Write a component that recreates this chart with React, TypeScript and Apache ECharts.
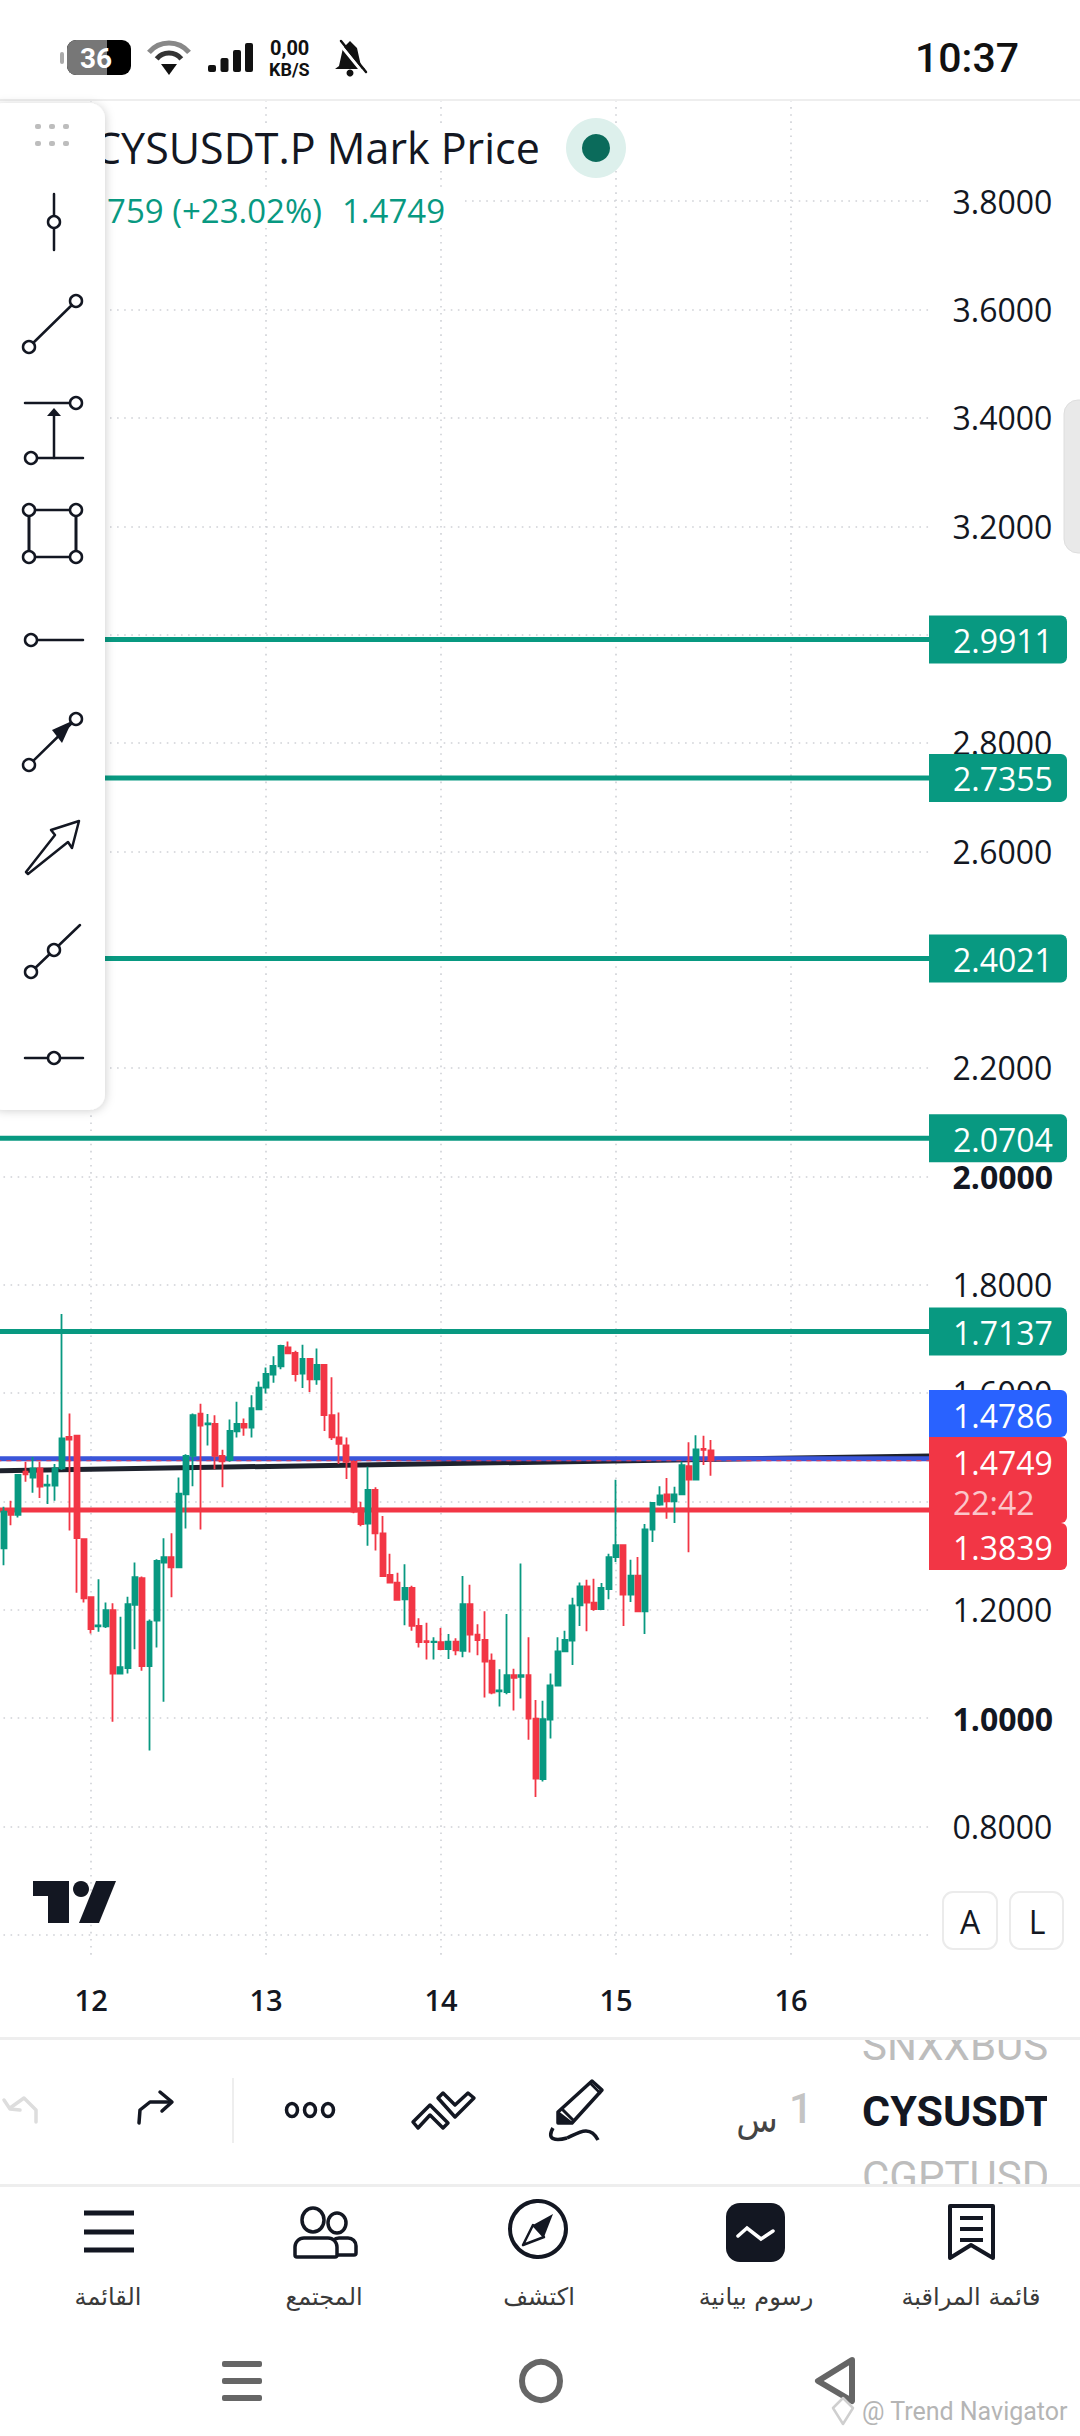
import React, { useEffect, useRef } from "react";
import * as echarts from "echarts";

const GREEN = "#089981";
const RED = "#F23645";
const BLUE = "#2962FF";
const INK = "#131722";

// [open, close, low, high] per hourly candle
const candles: number[][] = [
  [1.313,1.381,1.282,1.390],[1.385,1.375,1.356,1.401],[1.375,1.449,1.370,1.449],[1.455,1.450,1.436,1.473],
  [1.444,1.461,1.416,1.482],[1.461,1.427,1.406,1.473],[1.429,1.431,1.395,1.449],[1.429,1.461,1.401,1.469],
  [1.461,1.516,1.458,1.746],[1.519,1.514,1.346,1.562],[1.521,1.332,1.231,1.521],[1.330,1.221,1.213,1.330],
  [1.223,1.164,1.156,1.223],[1.169,1.171,1.159,1.256],[1.169,1.199,1.166,1.213],[1.199,1.082,0.993,1.212],
  [1.082,1.094,1.082,1.187],[1.092,1.210,1.082,1.224],[1.209,1.260,1.127,1.287],[1.258,1.096,1.087,1.261],
  [1.096,1.178,0.940,1.182],[1.180,1.290,1.130,1.293],[1.287,1.297,1.030,1.332],[1.297,1.278,1.223,1.341],
  [1.278,1.414,1.278,1.444],[1.413,1.484,1.350,1.487],[1.484,1.559,1.428,1.562],[1.562,1.540,1.348,1.580],
  [1.542,1.544,1.503,1.561],[1.543,1.484,1.459,1.559],[1.484,1.474,1.426,1.495],[1.476,1.530,1.473,1.551],
  [1.529,1.543,1.518,1.584],[1.543,1.536,1.521,1.553],[1.536,1.572,1.518,1.596],[1.570,1.610,1.570,1.621],
  [1.610,1.635,1.599,1.647],[1.634,1.650,1.619,1.668],[1.649,1.687,1.644,1.689],[1.684,1.673,1.672,1.695],
  [1.674,1.635,1.621,1.678],[1.636,1.663,1.609,1.689],[1.663,1.625,1.602,1.664],[1.625,1.652,1.615,1.682],
  [1.652,1.559,1.530,1.652],[1.559,1.518,1.513,1.629],[1.518,1.506,1.469,1.564],[1.503,1.473,1.441,1.518],
  [1.473,1.381,1.378,1.476],[1.387,1.358,1.354,1.399],[1.359,1.421,1.318,1.464],[1.421,1.341,1.309,1.426],
  [1.341,1.262,1.262,1.373],[1.264,1.250,1.250,1.303],[1.250,1.218,1.217,1.268],[1.219,1.240,1.171,1.284],
  [1.240,1.170,1.161,1.244],[1.170,1.140,1.130,1.184],[1.142,1.140,1.108,1.176],[1.140,1.141,1.108,1.149],
  [1.140,1.127,1.125,1.166],[1.127,1.141,1.109,1.155],[1.141,1.125,1.116,1.147],[1.124,1.210,1.112,1.262],
  [1.210,1.154,1.121,1.246],[1.154,1.144,1.116,1.173],[1.144,1.104,1.038,1.197],[1.106,1.047,1.044,1.119],
  [1.049,1.051,1.021,1.090],[1.048,1.079,1.044,1.192],[1.079,1.074,1.014,1.091],[1.076,1.079,1.036,1.285],
  [1.079,0.999,0.960,1.149],[0.999,0.888,0.854,1.033],[0.887,0.998,0.883,1.032],[0.997,1.060,0.962,1.082],
  [1.060,1.123,1.059,1.149],[1.123,1.144,1.123,1.161],[1.143,1.208,1.098,1.222],[1.208,1.243,1.170,1.250],
  [1.243,1.213,1.160,1.255],[1.213,1.201,1.198,1.257],[1.201,1.240,1.201,1.249],[1.238,1.297,1.219,1.303],
  [1.297,1.319,1.288,1.440],[1.319,1.228,1.170,1.319],[1.228,1.263,1.214,1.292],[1.263,1.197,1.197,1.297],
  [1.197,1.348,1.155,1.358],[1.348,1.397,1.325,1.398],[1.394,1.411,1.392,1.428],[1.413,1.400,1.368,1.443],
  [1.400,1.413,1.360,1.427],[1.413,1.467,1.413,1.473],[1.465,1.440,1.306,1.509],[1.440,1.496,1.440,1.522],
  [1.497,1.495,1.467,1.521],[1.494,1.475,1.447,1.513],
];

const tickLabels = ["12", "13", "14", "15", "16"];
const greenLevels = [2.9911, 2.7355, 2.4021, 2.0704, 1.7137];
const blueLevel = 1.4786;
const redLevel = 1.3839;
const lastPrice = 1.4749;
const countdown = "22:42";
const trendLine = [1.4565, 1.4837];
const boldTicks = [1, 2];
const hiddenTicks = [0.4, 0.6, 4];

const SLOTS = 129;
const categories = Array.from({ length: SLOTS }, (_, k) => {
  const h = k - 13;
  const day = 12 + Math.floor(h / 24);
  const hour = ((h % 24) + 24) % 24;
  return hour === 0 ? String(day) : `${day} ${hour}:00`;
});
const isDay = (k: number) => ((k - 13) % 24 + 24) % 24 === 0;

const GRID_LEFT = -3.64;
const GRID_W = 933.12;
const GRID_TOP = 92.9;
const GRID_H = 1950.12;
const Y_MIN = 0.4;
const Y_MAX = 4;
const yOf = (v: number) => GRID_TOP + ((Y_MAX - v) / (Y_MAX - Y_MIN)) * GRID_H;

const FONT = "Open Sans";
const ROBOTO = "Roboto";
const ARABIC = "DejaVu Sans";

function levelSeries(v0: number, v1: number, color: string, width: number, type: any = "solid") {
  return {
    type: "line",
    xAxisIndex: 0,
    yAxisIndex: 0,
    z: 1,
    silent: true,
    showSymbol: false,
    symbol: "none",
    animation: false,
    lineStyle: { color, width, type },
    data: [[0, v0], [SLOTS - 1, v1]],
  };
}

function buildGraphics() {
  const els: any[] = [];
  const txt = (text: string, x: number, y: number, size: number, fill: string, o: any = {}) =>
    els.push({
      type: "text", z: 10, x, y,
      style: { text, fill, fontFamily: o.font || FONT, fontSize: size, fontWeight: o.weight || 400,
        textAlign: o.align || "left", textVerticalAlign: "middle", textBaseline: "middle" },
    });
  const rect = (x: number, y: number, w: number, h: number, fill: string, r: any = 0, extra: any = {}) =>
    els.push({ type: "rect", z: 10, shape: { x, y, width: w, height: h, r }, style: { fill, ...extra } });
  const ln = (x1: number, y1: number, x2: number, y2: number, w = 2.5, stroke = "#131722", cap = "round") =>
    els.push({ type: "line", z: 10, shape: { x1, y1, x2, y2 }, style: { stroke, lineWidth: w, lineCap: cap } });
  const node = (cx: number, cy: number, r = 6) =>
    els.push({ type: "circle", z: 10, shape: { cx, cy, r }, style: { fill: "#fff", stroke: "#131722", lineWidth: 2.5 } });
  const poly = (pts: number[][], fill: string, stroke = "none", w = 0) =>
    els.push({ type: "polygon", z: 10, shape: { points: pts }, style: { fill, stroke, lineWidth: w, lineJoin: "round" } });
  const pline = (pts: number[][], stroke: string, w: number) =>
    els.push({ type: "polyline", z: 10, shape: { points: pts }, style: { fill: "none", stroke, lineWidth: w, lineJoin: "round", lineCap: "round" } });

  // masks above and below the plot
  rect(0, 0, 1080, 100, "#fff");
  rect(0, 99, 1080, 2, "#eeeeee");
  rect(0, 1959, 1080, 477, "#fff");

  // header
  rect(0, 125, 555, 46, "#fff");
  rect(0, 190, 465, 38, "#fff");
  txt("CYSUSDT.P Mark Price", 94, 147, 43, INK);
  els.push({ type: "circle", z: 10, shape: { cx: 596, cy: 148, r: 30 }, style: { fill: "#DDF0EC" } });
  els.push({ type: "circle", z: 10, shape: { cx: 596, cy: 148, r: 14 }, style: { fill: "#0B6B5B" } });
  txt("759 (+23.02%)", 322, 210, 33, GREEN, { align: "right" });
  txt("1.4749", 342, 210, 33, GREEN);

  // status bar
  rect(67, 40, 64, 35, "#000", 9);
  rect(67, 40, 40, 35, "#777", [9, 0, 0, 9]);
  rect(60, 52, 4, 12, "#aaa", 2);
  txt("36", 96, 58, 28, "#fff", { weight: 700, align: "center", font: ROBOTO });
  els.push({ type: "arc", z: 10, shape: { cx: 169, cy: 69, r: 26, startAngle: Math.PI * 1.22, endAngle: Math.PI * 1.78 }, style: { stroke: "#888", lineWidth: 5, fill: "none" } });
  els.push({ type: "arc", z: 10, shape: { cx: 169, cy: 69, r: 16, startAngle: Math.PI * 1.22, endAngle: Math.PI * 1.78 }, style: { stroke: "#333", lineWidth: 5, fill: "none" } });
  poly([[161, 64], [177, 64], [169, 75]], "#111");
  [[208, 65], [220.5, 58], [233, 50], [245, 43]].forEach(([x, y]) => rect(x, y, 8, 72 - y, "#111", 2));
  txt("0,00", 270, 48, 20, "#111", { weight: 700, font: ROBOTO });
  txt("KB/S", 269, 69, 18, "#111", { weight: 700, font: ROBOTO });
  poly([[350, 41], [357, 48], [361, 66], [365, 69], [335, 69], [339, 66], [343, 48]], "#111");
  els.push({ type: "circle", z: 10, shape: { cx: 350, cy: 73, r: 3.5 }, style: { fill: "#111" } });
  ln(338, 42, 364, 74, 3, "#fff");
  ln(341, 41, 366, 72, 2.5, "#111");
  txt("10:37", 1019, 58, 41, "#111", { weight: 500, align: "right", font: ROBOTO });

  // price tags
  const tag = (y0: number, h: number, fill: string) =>
    els.push({ type: "rect", z: 10, shape: { x: 929, y: y0, width: 138, height: h, r: [0, 6, 6, 0] }, style: { fill } });
  greenLevels.forEach((v) => {
    const y = yOf(v);
    tag(y - 24, 48, GREEN);
    txt(v.toFixed(4), 953, y + 1, 32, "#fff");
  });
  tag(1390, 47, BLUE);
  txt(blueLevel.toFixed(4), 953, 1415, 32, "#fff");
  tag(1437, 86, RED);
  txt(lastPrice.toFixed(4), 953, 1462, 32, "#fff");
  txt(countdown, 953, 1502, 32, "rgba(255,255,255,0.72)");
  tag(1523, 47, RED);
  txt(redLevel.toFixed(4), 953, 1547, 32, "#fff");

  // side handle
  rect(1064, 400, 30, 153, "#E9E9E9", 14, { stroke: "#DEDEDE", lineWidth: 1 });

  // logo
  poly([[33, 1881], [69, 1881], [69, 1923], [48, 1923], [48, 1896], [33, 1896]], "#131722");
  els.push({ type: "circle", z: 10, shape: { cx: 81, cy: 1889, r: 8 }, style: { fill: "#131722" } });
  poly([[96, 1881], [116, 1881], [99, 1923], [79, 1923]], "#131722");

  // A / L
  rect(943, 1892, 54, 57, "#fff", 10, { stroke: "#EBEBEB", lineWidth: 2 });
  rect(1010, 1892, 53, 57, "#fff", 10, { stroke: "#EBEBEB", lineWidth: 2 });
  txt("A", 970, 1921, 32, INK, { align: "center" });
  txt("L", 1037, 1921, 32, INK, { align: "center" });

  // toolbar
  rect(-12, 103, 117, 1007, "#fff", 16, { shadowBlur: 10, shadowColor: "rgba(0,0,0,0.18)", shadowOffsetX: 1, shadowOffsetY: 1 });
  [38, 52, 66].forEach((x) => {
    rect(x - 3, 124, 6, 5, "#BDBDBD", 2);
    rect(x - 3, 141, 6, 5, "#BDBDBD", 2);
  });
  ln(54, 194, 54, 250);
  node(54, 222);
  ln(29, 347, 76, 301);
  node(29, 347);
  node(76, 301);
  ln(25, 403, 70, 403);
  node(76, 403);
  ln(38, 458, 83, 458);
  node(31, 458);
  ln(54, 458, 54, 416);
  poly([[54, 408], [47, 416], [61, 416]], "#131722");
  ln(29, 510, 76, 510);
  ln(29, 557, 76, 557);
  ln(29, 510, 29, 557, 3);
  ln(76, 510, 76, 557, 3);
  node(29, 510);
  node(76, 510);
  node(29, 557);
  node(76, 557);
  ln(37, 640, 83, 640);
  node(31, 640);
  ln(29, 765, 76, 719);
  poly([[72, 721], [52, 730], [62, 743]], "#131722");
  node(29, 765);
  node(76, 719);
  poly([[51, 830], [79, 821], [72, 848], [68, 842], [28, 874], [26, 872], [55, 835]], "#fff", "#131722", 2.5);
  ln(31, 972, 80, 925);
  node(31, 972);
  node(54, 950);
  ln(25, 1058, 83, 1058);
  node(54, 1058);

  // time-frame row
  txt("SNXXBUSDT", 862, 2045, 42, "#BDBDBD", { font: ROBOTO });
  txt("CYSUSDT", 862, 2111, 43, "#131722", { weight: 700, font: ROBOTO });
  txt("CGPTUSDT", 862, 2176, 42, "#BDBDBD", { font: ROBOTO });
  rect(0, 2020, 1080, 17, "#fff");
  rect(0, 2187, 1080, 20, "#fff");
  rect(1047, 2020, 33, 187, "#fff");
  rect(0, 2037, 1080, 3, "#EEEEEE");
  rect(0, 2184, 1080, 3, "#EEEEEE");
  txt("1", 801, 2108, 42, "#C4C4C4", { align: "center", font: ROBOTO, weight: 500 });
  txt("س", 757, 2120, 34, "#444", { font: ARABIC, align: "center" });
  pline([[36, 2122], [36, 2110], [24, 2098], [10, 2108]], "#DDDDDD", 3.5);
  pline([[4, 2100], [10, 2109], [20, 2110]], "#DDDDDD", 3.5);
  pline([[139, 2123], [140, 2110], [150, 2102], [170, 2102]], "#131722", 3.5);
  pline([[160, 2092], [172, 2102], [162, 2111]], "#131722", 3.5);
  rect(232, 2078, 2, 65, "#EEEEEE");
  [292, 310, 328].forEach((cx) =>
    els.push({ type: "ellipse", z: 10, shape: { cx, cy: 2110, rx: 5.5, ry: 6.5 }, style: { fill: "none", stroke: "#131722", lineWidth: 3.5 } })
  );
  poly([[413, 2122], [430, 2105], [448, 2123], [443, 2128], [430, 2115], [418, 2128]], "none", "#131722", 3.5);
  poly([[438, 2098], [443, 2093], [455, 2105], [468, 2093], [474, 2098], [455, 2117]], "none", "#131722", 3.5);
  poly([[558, 2112], [592, 2081], [602, 2090], [572, 2123], [558, 2123]], "#fff", "#131722", 3.5);
  poly([[558, 2112], [571, 2122], [558, 2123]], "#131722", "#131722", 2);
  ln(563, 2110, 573, 2120, 3);
  ln(590, 2083, 600, 2093, 2.5);
  els.push({ type: "bezierCurve", z: 10, shape: { x1: 553, y1: 2128, x2: 567, y2: 2138, cpx1: 546, cpy1: 2140, cpx2: 556, cpy2: 2141 }, style: { fill: "none", stroke: "#131722", lineWidth: 3.5 } });
  els.push({ type: "bezierCurve", z: 10, shape: { x1: 567, y1: 2138, x2: 598, y2: 2140, cpx1: 578, cpy1: 2133, cpx2: 590, cpy2: 2124 }, style: { fill: "none", stroke: "#131722", lineWidth: 3.5 } });

  // bottom navigation
  [2213, 2232, 2250].forEach((y) => rect(84, y - 2.5, 50, 5, "#131722"));
  els.push({ type: "ellipse", z: 10, shape: { cx: 313, cy: 2220, rx: 11, ry: 12 }, style: { fill: "none", stroke: "#131722", lineWidth: 3.5 } });
  els.push({ type: "ellipse", z: 10, shape: { cx: 337, cy: 2223, rx: 9, ry: 10 }, style: { fill: "none", stroke: "#131722", lineWidth: 3.5 } });
  rect(331, 2238, 25, 17, "#fff", [8, 8, 2, 2], { stroke: "#131722", lineWidth: 3.5 });
  rect(295, 2238, 42, 19, "#fff", [9, 9, 2, 2], { stroke: "#131722", lineWidth: 3.5 });
  els.push({ type: "circle", z: 10, shape: { cx: 538, cy: 2229, r: 28 }, style: { fill: "none", stroke: "#131722", lineWidth: 4 } });
  poly([[553, 2214], [544, 2237], [533, 2225]], "#131722");
  poly([[523, 2245], [533, 2225], [544, 2237]], "#fff", "#131722", 2.5);
  rect(726, 2203, 59, 59, "#131722", 14);
  els.push({ type: "polyline", z: 10, shape: { points: [[738, 2236], [747, 2228], [761, 2239], [773, 2231]] }, style: { fill: "none", stroke: "#fff", lineWidth: 3.5, lineJoin: "miter", lineCap: "round" } });
  pline([[950, 2258], [950, 2206], [993, 2206], [993, 2258], [971, 2245], [950, 2258]], "#131722", 4);
  [2218, 2229, 2240].forEach((y) => rect(960, y - 2, 23, 4, "#131722"));
  txt("القائمة", 108, 2297, 24, "#3A3A3A", { font: ARABIC, align: "center" });
  txt("المجتمع", 324, 2297, 24, "#3A3A3A", { font: ARABIC, align: "center" });
  txt("اكتشف", 539, 2297, 24, "#3A3A3A", { font: ARABIC, align: "center" });
  txt("رسوم بيانية", 756, 2297, 24, "#3A3A3A", { font: ARABIC, align: "center" });
  txt("قائمة المراقبة", 971, 2297, 24, "#3A3A3A", { font: ARABIC, align: "center" });

  // system navigation
  [2364, 2381, 2398].forEach((y) => rect(222, y - 3, 40, 6, "#666", 2));
  els.push({ type: "circle", z: 10, shape: { cx: 541, cy: 2381, r: 19 }, style: { fill: "none", stroke: "#666", lineWidth: 6 } });
  poly([[852, 2360], [818, 2381], [852, 2401]], "none", "#666", 6);

  // watermark
  txt("@ Trend Navigator", 862, 2411, 25, "#B5B5B5", { font: ROBOTO });
  poly([[843, 2398], [853, 2408], [843, 2424], [833, 2408]], "none", "#CFCFCF", 2.5);

  return els;
}

export default function App() {
  const ref = useRef<HTMLDivElement>(null);
  useEffect(() => {
    document.body.style.margin = "0";
    document.body.style.background = "#fff";
    const chart = echarts.init(ref.current!, undefined, { renderer: "svg" });
    const dotted = { color: "#CFD1D6", width: 1.6, type: [1.6, 5.5] as any };
    chart.setOption({
      animation: false,
      backgroundColor: "#fff",
      grid: { left: GRID_LEFT, top: GRID_TOP, width: GRID_W, height: GRID_H, containLabel: false, outerBoundsMode: "none" },
      xAxis: [
        {
          type: "category", boundaryGap: false, position: "bottom", data: categories,
          axisLine: { show: false }, axisTick: { show: false }, axisLabel: { show: false },
          splitLine: { show: true, lineStyle: dotted, interval: (k: number) => isDay(k) },
        },
        {
          type: "category", boundaryGap: false, position: "bottom", data: categories, z: 20,
          axisLine: { show: false }, axisTick: { show: false }, splitLine: { show: false },
          axisLabel: {
            show: true, margin: -58, color: INK, fontFamily: FONT, fontSize: 29, fontWeight: 600,
            interval: (k: number) => isDay(k),
            formatter: (v: string) => (tickLabels.includes(v) ? v : ""),
          },
        },
      ],
      yAxis: {
        type: "value", position: "right", min: Y_MIN, max: Y_MAX, interval: 0.2, scale: true,
        axisLine: { show: false }, axisTick: { show: false },
        splitLine: { show: true, lineStyle: dotted },
        axisLabel: {
          show: true, margin: 23, color: INK, fontFamily: FONT, fontSize: 32,
          formatter: (v: number) => {
            if (hiddenTicks.some((h) => Math.abs(h - v) < 1e-6)) return "";
            const s = v.toFixed(4);
            return boldTicks.some((b) => Math.abs(b - v) < 1e-6) ? `{b|${s}}` : s;
          },
          rich: { b: { fontFamily: FONT, fontSize: 32, fontWeight: 700, color: INK } },
        },
      },
      series: [
        levelSeries(trendLine[0], trendLine[1], "#1E222D", 5),
        ...greenLevels.map((v) => levelSeries(v, v, GREEN, 5)),
        levelSeries(blueLevel, blueLevel, "#3A55D9", 5),
        levelSeries(redLevel, redLevel, RED, 5),
        levelSeries(lastPrice, lastPrice, RED, 1.2, [5, 5]),
        {
          type: "candlestick",
          xAxisIndex: 0,
          yAxisIndex: 0,
          z: 2,
          barWidth: 5.4,
          silent: true,
          itemStyle: { color: GREEN, color0: RED, borderColor: GREEN, borderColor0: RED, borderWidth: 1.8 },
          data: [null, ...candles].map((c) => (c ? c : ["-", "-", "-", "-"])),
        },
      ],
      graphic: { elements: buildGraphics() },
    });
    return () => chart.dispose();
  }, []);
  return <div ref={ref} style={{ width: 1080, height: 2436 }} />;
}
